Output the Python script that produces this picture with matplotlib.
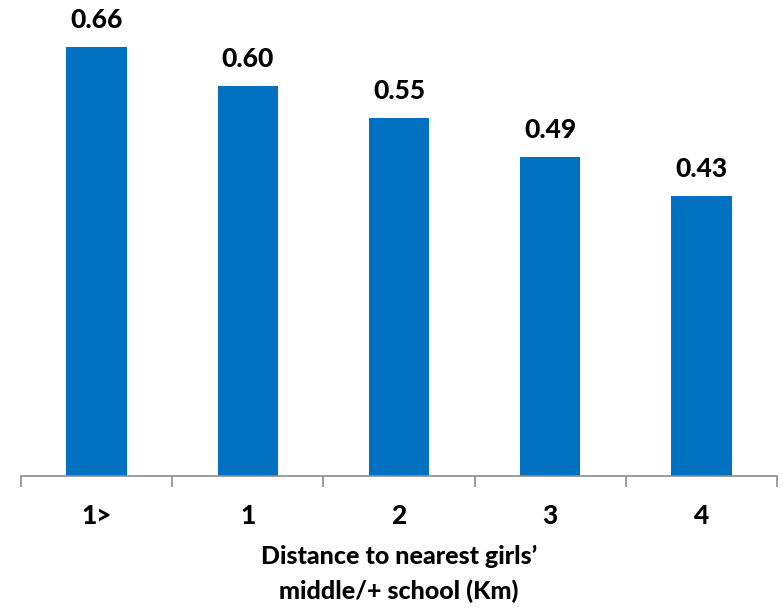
import numpy as np
import matplotlib.pyplot as plt

categories = ["1>", "1", "2", "3", "4"]
values = [0.66, 0.60, 0.55, 0.49, 0.43]

plt.rcParams['font.family'] = ['Lato', 'DejaVu Sans']

fig = plt.figure(figsize=(7.83, 6.08), dpi=100)
ax = fig.add_axes([21/783, 132/608, 756/783, 476/608])

x = np.arange(len(categories))
bars = ax.bar(x, values, width=0.4, color="#0070C0")

for b, v in zip(bars, values):
    ax.annotate(f"{v:.2f}", (b.get_x() + b.get_width()/2, v),
                xytext=(0, 11), textcoords="offset points",
                ha="center", va="bottom", fontsize=19, fontweight="black")

ax.set_xlim(-0.5, len(categories) - 0.5)
ax.set_ylim(0, 0.732)

for s in ["top", "right", "left"]:
    ax.spines[s].set_visible(False)
ax.spines["bottom"].set_color("#8c8c8c")
ax.spines["bottom"].set_linewidth(1.2)

ax.set_yticks([])
ax.set_xticks(np.arange(len(categories) + 1) - 0.5)
ax.set_xticklabels([])
ax.tick_params(axis="x", length=8, width=1.2, color="#8c8c8c")
ax.set_xticks(x, minor=True)
ax.set_xticklabels(categories, minor=True, fontsize=19, fontweight="black")
ax.tick_params(axis="x", which="minor", length=0, pad=20)

ax.set_xlabel("Distance to nearest girls’\nmiddle/+ school (Km)",
              fontsize=18, fontweight="black", labelpad=12, linespacing=1.6)

fig.savefig("out.png", dpi=100)
